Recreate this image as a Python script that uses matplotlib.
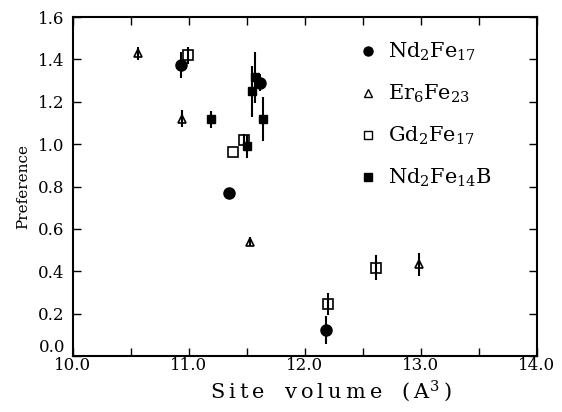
import matplotlib
matplotlib.use("Agg")
import matplotlib.pyplot as plt
from matplotlib.ticker import MultipleLocator
from matplotlib.lines import Line2D
from matplotlib.transforms import ScaledTranslation

plt.rcParams['font.family'] = ['DejaVu Serif', 'DejaVu Sans']
plt.rcParams['mathtext.fontset'] = 'dejavuserif'

# Nd2Fe17 (filled circles)
nd17_x = [10.93, 11.345, 11.61, 12.18]
nd17_y = [1.373, 0.767, 1.29, 0.123]
nd17_e = [0.06, 0.0, 0.04, 0.067]

# Er6Fe23 (open triangles)
er_x = [10.56, 10.94, 11.53, 12.985]
er_y = [1.428, 1.12, 0.54, 0.432]
er_e = [0.03, 0.04, 0.02, 0.056]

# Gd2Fe17 (open squares)
gd_x = [10.99, 11.38, 11.47, 12.20, 12.61]
gd_y = [1.42, 0.964, 1.02, 0.245, 0.417]
gd_e = [0.04, 0.0, 0.03, 0.05, 0.06]

# Nd2Fe14B (filled squares)
ndb_x = [11.19, 11.50, 11.54, 11.57, 11.64]
ndb_y = [1.118, 0.99, 1.25, 1.315, 1.118]
ndb_e = [0.04, 0.055, 0.12, 0.12, 0.105]

labels = [r'$\mathrm{Nd_2Fe_{17}}$', r'$\mathrm{Er_6Fe_{23}}$',
          r'$\mathrm{Gd_2Fe_{17}}$', r'$\mathrm{Nd_2Fe_{14}B}$']

fig = plt.figure(figsize=(5.62, 4.12), dpi=100)
ax = fig.add_axes([73/562, 1-356/412, 464/562, 339/412])

kw = dict(ls='none', ecolor='black', elinewidth=1.5, capsize=0, mec='black')
ax.errorbar(nd17_x, nd17_y, yerr=nd17_e, fmt='o', ms=8, mfc='black', **kw)
ax.errorbar(er_x, er_y, yerr=er_e, fmt='^', ms=6, mfc='none', mew=1.2, **kw)
ax.errorbar(gd_x, gd_y, yerr=gd_e, fmt='s', ms=6.5, mfc='none', mew=1.2, **kw)
ax.errorbar(ndb_x, ndb_y, yerr=ndb_e, fmt='s', ms=6, mfc='black', **kw)

ax.set_xlim(10.0, 14.0)
ax.set_ylim(0.0, 1.6)
ax.xaxis.set_major_locator(MultipleLocator(1.0))
ax.xaxis.set_minor_locator(MultipleLocator(0.5))
ax.yaxis.set_major_locator(MultipleLocator(0.2))
ax.xaxis.set_major_formatter(plt.FuncFormatter(lambda v, p: f'{v:.1f}'))
ax.yaxis.set_major_formatter(plt.FuncFormatter(lambda v, p: '' if abs(v) < 1e-9 else f'{v:.1f}'))
ax.tick_params(which='both', direction='in', top=True, right=True, length=6, width=1)
ax.tick_params(axis='x', which='major', labelsize=12, pad=1)
ax.tick_params(axis='y', which='major', labelsize=12, pad=6)
for s in ax.spines.values():
    s.set_linewidth(1.5)

# bottom y tick label sits slightly raised in the reference
ax.text(0, 0.0, '0.0', fontsize=12, ha='right', va='center',
        transform=ax.get_yaxis_transform() + ScaledTranslation(-8/100, 8/100, fig.dpi_scale_trans))

th = '\u2009'
xl = th.join('Site') + '   ' + th.join('volume') + '   ' + '(' + th + 'A$^3$' + th + ')'
ax.set_xlabel(xl, fontsize=15)
ax.xaxis.set_label_coords((331 - 73) / 464, (356 - 378) / 339)
ax.set_ylabel('Preference', fontsize=11, labelpad=6)

handles = [Line2D([], [], ls='none', marker='o', ms=6.5, color='black'),
           Line2D([], [], ls='none', marker='^', ms=5.5, mfc='none', mec='black'),
           Line2D([], [], ls='none', marker='s', ms=5.5, mfc='none', mec='black'),
           Line2D([], [], ls='none', marker='s', ms=5.5, color='black')]
ax.legend(handles, labels, loc='upper left', bbox_to_anchor=(0.572, 0.985),
          frameon=False, fontsize=15, handlelength=1.0, handletextpad=0.5,
          labelspacing=0.95)

fig.savefig('out.png', dpi=100)
